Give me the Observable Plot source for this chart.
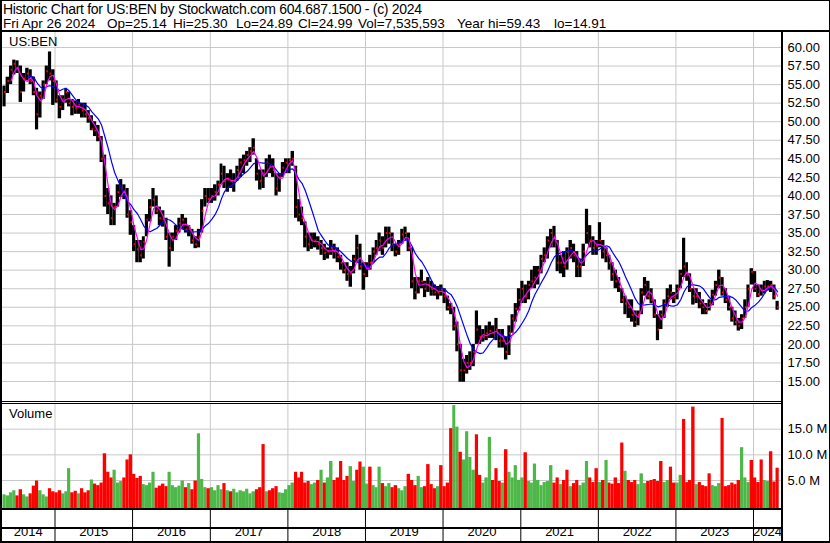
<!DOCTYPE html>
<html><head><meta charset="utf-8">
<script src="https://cdn.jsdelivr.net/npm/d3@7"></script>
<script src="https://cdn.jsdelivr.net/npm/@observablehq/plot@0.6"></script>
<style>
html,body{margin:0;padding:0;background:#fff;}
#chart{position:relative;width:830px;height:543px;overflow:hidden;background:#fff;font-family:Arial,"Liberation Sans",sans-serif;color:#000;}
#chart svg{position:absolute;left:0;}
.ln{position:absolute;background:#000;}
.txt{position:absolute;white-space:pre;line-height:1;}
.h1{font-size:14px;letter-spacing:-0.3px;}
.hd{font-size:13.5px;}
.lb{font-size:13px;}
</style></head><body>
<div id="chart"></div>
<script>
// ---------- DATA (half-month samples, 2014-05 first half .. 2024-04 second half) ----------
const firstSample = [2014, 4]; // May 2014
const hi = [
  // 2014 May-Dec
  54.8,56, 57.5,58.3, 58.2,57.5, 56.5,57.2, 57,56, 54.5,54, 55.5,57.5, 59.4,57,
  // 2015
  55.5,53.5, 53.5,54.5, 54,53, 52.8,53, 52.5,52.5, 51.5,50.8, 50,49.5, 48,45.5, 41,40, 39,41.5, 42.2,41.5, 41,38,
  // 2016
  36,34, 34,34.5, 37.5,39.5, 41,40, 38.5,38, 37,35, 35,36, 37,37.5, 37,36, 35.5,34.5, 35.5,39.5, 41,41,
  // 2017
  41,41.5, 42,44.3, 44,43, 43.5,43, 44,45, 45.5,46, 46.5,47.7, 45,43.5, 43.5,45, 45.5,45, 43,43, 44.5,45,
  // 2018
  45,46, 44,39.5, 38.5,36.5, 35,35, 35,34.5, 34,33.5, 33,34, 33.5,33, 32,31, 31,30.5, 32,34.7, 33.5,31,
  // 2019
  31,32, 33,34, 35,34.5, 35.8,35.8, 35,33.5, 34,35.5, 35.8,35, 33,29, 29,30, 28.5,29, 28.5,28, 27.8,28,
  // 2020
  27.5,26.5, 25.5,25, 23,20, 18,18.5, 19,20, 24.5,22.5, 22,22.5, 23,22.5, 23.5,22, 22,21, 22.5,24, 25.5,27.5,
  // 2021
  28.5,28, 28.5,30, 30.5,30.5, 32,33, 34.5,35.5, 35.9,34, 32,32.5, 33,34, 33.5,32.5, 31.5,33.5, 38.2,36, 34.5,34,
  // 2022
  36.4,34, 33,32, 31,30, 29,27.5, 26.5,26, 26,24.5, 24.5,27.5, 29,28.5, 27.5,26, 24,24.5, 26,27.5, 28,27,
  // 2023
  28,30, 34.3,31, 29.5,27.5, 27.5,27, 26,25.5, 26,27.3, 28.5,30, 29,27.5, 26.5,25, 24.5,23.5, 24,26, 28,30.2,
  // 2024 Jan-Apr
  29.8,28, 28,28.5, 28.6,28.5, 28,25.8
];
const lo = [
  52,53.8, 55,56.3, 56.5,52.6, 54,55.5, 55,53.5, 48.9,50.5, 53,55, 55.5,52.2,
  52.5,50.4, 51.5,52.5, 52,50.8, 51,51, 50.5,50.5, 49.8,48.8, 48,47.3, 44.5,38.5, 37.5,36, 36,38.5, 39.8,39.5, 37,34.7,
  32.5,31, 31,31.5, 34.5,36.5, 38.5,37.5, 36,35.8, 34,30.4, 32.5,34, 35,35.5, 35,34.5, 33.5,32.9, 33,35, 38.5,39,
  39,39.3, 40,41.5, 41,40.5, 41,40.5, 42,42.5, 43,44, 44.5,45.5, 42,40.8, 41,42.5, 43,42.5, 40,40.5, 42.5,43,
  43,44, 37,36.5, 36,33, 32.5,32.8, 33,32.7, 32,31.3, 31.5,32, 31.5,31, 30,29.5, 28.5,27.7, 29.5,31, 30,27.3,
  29,30, 31,32, 32.5,32, 33,33.5, 32.5,31.8, 32,33.5, 34,32.5, 27.5,26, 26.8,27.5, 26.3,27, 26.5,26.5, 26,26.5,
  25.5,24.5, 24,21.8, 19,14.9, 14.9,16, 16.5,17, 20,20, 20.3,20.5, 20.8,20.8, 20.5,19.5, 19.5,17.9, 18.5,21.5, 23,24.5,
  25.5,25.5, 26,27.5, 27.5,28, 29.5,31, 31.5,33, 33,29.8, 29.5,29, 30,31.5, 31,29, 29,30.5, 33.5,33, 32,32,
  33,31.5, 31,30, 28.5,27.5, 27,25.5, 24,23.5, 23,22.3, 22.5,24, 26.5,26, 25.5,23.5, 20.5,22, 23.5,25, 26,25.5,
  26,27.5, 29,28.5, 27,25.3, 25.5,24.8, 24,24, 24.5,25.2, 26.5,27.5, 26.5,25.5, 24.5,23, 22.5,21.8, 22,23.5, 25,28,
  27,26.3, 26.5,26.8, 27.2,27, 26,24.6
];
const cl = [
  54,55.5, 57,57.8, 57.2,54, 55.8,56.5, 55.5,54, 51,53.5, 55,56.8, 56.5,55.5,
  53,52, 53,54, 52.5,52, 51.8,52.3, 51.5,51, 50.5,49, 48.8,48, 45,40, 39,37, 38.5,40.5, 41,40.5, 37.5,36.5,
  33.5,32.8, 32,33.8, 36.8,38.5, 39.5,38, 37,36.8, 34.5,33, 34.5,35.3, 36.3,36.8, 35.5,35.5, 34,33.5, 34.5,38, 40,39.6,
  40,40.5, 41.5,43, 42,42.2, 42,42, 43.5,44.5, 44.8,45.5, 46,46.5, 43,42, 43,44.5, 44,43.5, 41,42.5, 43.8,44.5,
  44.8,45, 38.5,37.5, 37,34.5, 33.5,34, 34,33.5, 33,32.3, 32.5,33, 32.5,31.8, 31,30, 29.5,29.5, 31.5,33, 30.5,29.5,
  30.5,31, 32.5,33, 34,33, 35,35, 33.5,32.5, 33.5,34.8, 35,33, 28.5,27, 28.5,28.5, 27.5,28, 27.5,27, 27,27.4,
  26.5,25, 25,22.5, 20,16.5, 16.5,17.5, 17.5,19, 22,21, 21,21.5, 21.8,21.5, 22,20.5, 20.5,19, 21.5,23.5, 24.8,26,
  27.5,26.5, 28,28.5, 29,30, 31.5,32, 34,35, 34.5,31, 31,30.5, 32.5,33, 32,30.5, 30.5,32.5, 35,34, 33,33.3,
  34,32.5, 32,31, 29.5,28.5, 27.8,26, 25.5,25, 24,23, 24,27, 28,26.5, 26,24, 22,24, 25.5,26.5, 27,26.3,
  27.5,29.5, 30.5,29.3, 27.5,26.5, 26.5,25.5, 25,24.5, 25.5,26.7, 28,29, 27,26, 25,23.5, 23,22.5, 23.5,25, 27.5,29.8,
  27.5,26.8, 27.3,27.8, 27.8,28, 26.5,25
];
// volume, millions of shares (peak of each half-month)
const volume = [
  2.2,2.0, 2.6,3.0, 2.0,3.2, 2.2,1.8, 2.4,3.9, 4.9,3.0, 2.2,1.8, 3.4,2.8,
  2.6,3.0, 2.4,2.8, 7.3,2.6, 2.9,2.4, 3.4,2.6, 3.0,5.1, 4.3,4.0, 4.5,10.2, 6.6,5.5, 7.0,4.5, 4.8,5.5, 9.0,10.0,
  6.2,5.4, 5.8,4.2, 4.0,4.5, 6.6,3.5, 3.9,4.3, 3.8,6.6, 4.0,3.6, 3.9,4.9, 3.6,4.4, 3.2,4.9, 14.1,5.2, 3.6,3.4,
  3.6,3.0, 4.0,3.2, 4.4,3.0, 2.8,3.3, 2.6,3.0, 2.8,3.3, 2.4,2.8, 3.2,3.6, 12.0,2.8, 3.0,3.4, 3.8,2.6, 2.5,3.2,
  4.0,4.5, 6.6,5.5, 6.6,4.5, 4.8,4.2, 4.5,5.0, 7.0,4.5, 5.5,8.7, 5.0,5.5, 8.7,5.0, 5.8,7.7, 4.8,7.0, 8.6,7.6,
  4.3,7.6, 4.0,3.6, 7.6,4.4, 3.8,4.4, 3.6,4.0, 3.4,3.0, 3.8,6.2, 5.0,4.0, 5.8,3.6, 3.8,8.1, 4.2,3.4, 3.8,7.9,
  3.8,4.5, 15.1,19.6, 15.4,10.5, 9.0,14.5, 9.5,7.0, 13.9,6.0, 4.5,5.5, 13.4,5.0, 7.3,4.8, 4.5,11.0, 6.6,5.5, 7.9,5.0,
  5.5,10.4, 4.8,4.5, 8.2,5.0, 4.0,4.6, 4.8,7.9, 4.5,5.5, 4.2,5.0, 7.0,3.8, 4.4,5.0, 4.0,4.5, 8.7,5.5, 4.6,7.3,
  4.6,5.0, 8.9,4.5, 4.3,5.5, 4.4,12.3, 6.8,5.0, 4.6,5.0, 4.2,6.3, 4.4,4.8, 5.0,5.2, 4.8,8.7, 4.6,5.0, 7.6,4.5,
  4.5,6.0, 16.9,4.6, 5.0,19.3, 4.2,4.6, 4.0,3.8, 6.3,4.0, 3.8,4.4, 17.1,3.8, 4.0,4.5, 4.2,5.0, 11.4,5.5, 4.6,8.9,
  5.5,4.6, 9.0,5.0, 4.8,10.6, 4.7,7.4
];
// 1 = up (green) volume bar, 0 = down (red)
const volUp = [
  1,1,1,1,0,0,1,1,0,0,0,1,1,1,0,0,
  0,0,1,1,1,0,0,1,0,0,0,1,0,0,0,0,0,0,1,1,1,0,0,0,
  0,0,0,1,1,1,1,0,0,0,0,1,1,1,1,1,0,1,0,0,1,1,1,0,
  1,1,1,1,0,1,0,1,1,1,1,1,1,1,0,0,0,1,0,0,0,1,1,1,
  1,1,0,0,0,0,0,1,1,0,1,0,1,1,0,0,0,0,0,1,1,0,0,1,
  1,0,1,1,1,0,1,1,0,0,1,1,1,0,0,0,1,1,0,0,0,0,1,0,
  0,0,0,1,1,0,1,1,1,1,0,0,1,1,1,0,0,0,1,0,1,1,1,1,
  1,0,1,1,1,1,1,1,1,1,0,0,1,0,0,1,0,0,1,1,1,0,0,0,
  1,0,1,0,0,0,0,0,1,0,0,0,1,1,1,0,0,0,0,0,1,1,0,0,
  1,1,0,0,0,0,1,0,0,0,0,1,1,1,0,0,0,0,0,0,1,1,1,0,
  0,0,0,1,1,0,0,0
];
const priceTicks = [15,17.5,20,22.5,25,27.5,30,32.5,35,37.5,40,42.5,45,47.5,50,52.5,55,57.5,60];
const volTicks = [5,10,15];
const years = ["2014","2015","2016","2017","2018","2019","2020","2021","2022","2023","2024"];
const headerLine1 = "Historic Chart for US:BEN by Stockwatch.com 604.687.1500 - (c) 2024";
const headerFields = ["Fri Apr 26 2024","Op=25.14","Hi=25.30","Lo=24.89","Cl=24.99","Vol=7,535,593","Year hi=59.43","lo=14.91"];
const symbol = "US:BEN";
const volumeTitle = "Volume";

// ---------- BUILD ----------
const samples = hi.map((h, i) => {
  const m = firstSample[1] + Math.floor(i / 2), half = i % 2;
  const start = new Date(Date.UTC(firstSample[0], m, half ? 16 : 1));
  const end = half ? new Date(Date.UTC(firstSample[0], m + 1, 1)) : new Date(Date.UTC(firstSample[0], m, 16));
  return {start, end, mid: new Date((+start + +end) / 2), hi: h, lo: lo[i], cl: cl[i], vol: volume[i], up: volUp[i]};
});
const xDomain = [new Date(Date.UTC(2014, 3, 24, 5)), new Date(Date.UTC(2024, 4, 11, 19))];
const yearStarts = years.slice(1).map(y => new Date(Date.UTC(+y, 0, 1)));
const yearLabels = years.map(y => {
  const a = Math.max(Date.UTC(+y, 0, 1), +xDomain[0]);
  const b = Math.min(Date.UTC(+y + 1, 0, 1), +xDomain[1]);
  return {label: y, mid: new Date((a + b) / 2)};
});
const FONT = "Arial, 'Liberation Sans', sans-serif";
const GRID = "#c8c8c8", GREEN = "#4db848", RED = "#ff0000";
const common = {width: 830, marginLeft: 1, marginRight: 49, marginTop: 0, marginBottom: 0,
  style: {fontFamily: FONT, fontSize: "13px", background: "transparent", color: "#000", overflow: "visible"}};

const pricePlot = Plot.plot({
  ...common, height: 369,
  x: {type: "utc", domain: xDomain, axis: null},
  y: {domain: [12.305, 62.021], axis: "right", ticks: priceTicks, tickFormat: d => d.toFixed(2), tickSize: 0, tickPadding: 6, label: null},
  marks: [
    Plot.ruleY(priceTicks, {stroke: GRID}),
    Plot.ruleX(yearStarts, {stroke: GRID}),
    Plot.rect(samples, {x1: "start", x2: "end", y1: "lo", y2: "hi", fill: "#000"}),
    Plot.ruleY(samples, {y: "cl", x1: "mid", x2: "end", stroke: RED, strokeWidth: 2}),
    Plot.line(samples, Plot.windowY({k: 8, anchor: "end", strict: true}, {x: "mid", y: "cl", stroke: "#0000ff", strokeWidth: 1.2})),
    Plot.line(samples, Plot.windowY({k: 3, anchor: "end", strict: true}, {x: "mid", y: "cl", stroke: "#ff00ff", strokeWidth: 1.2}))
  ]
});
const vMin = -0.458;
const volPlot = Plot.plot({
  ...common, height: 104,
  x: {type: "utc", domain: xDomain, axis: null},
  y: {domain: [vMin, 19.81], axis: "right", ticks: volTicks, tickFormat: d => d.toFixed(1) + " M", tickSize: 0, tickPadding: 6, label: null},
  marks: [
    Plot.ruleY(volTicks, {stroke: GRID}),
    Plot.ruleX(yearStarts, {stroke: GRID}),
    Plot.rect(samples.filter(d => d.up), {x1: "start", x2: "end", y1: vMin, y2: "vol", fill: GREEN}),
    Plot.rect(samples.filter(d => !d.up), {x1: "start", x2: "end", y1: vMin, y2: "vol", fill: RED})
  ]
});
const axisPlot = Plot.plot({
  ...common, height: 31,
  x: {type: "utc", domain: xDomain, axis: null},
  y: {domain: [0, 1], axis: null},
  marks: [
    Plot.ruleX(yearStarts, {stroke: "#000"}),
    Plot.text(yearLabels, {x: "mid", text: "label", frameAnchor: "bottom", dy: -6, fill: "#000", fontSize: 13})
  ]
});

const chart = document.getElementById("chart");
function place(el, top) { el.style.top = top + "px"; chart.appendChild(el); }
place(pricePlot, 32);
place(volPlot, 404);
place(axisPlot, 510);

function line(l, t, w, h) { const d = document.createElement("div"); d.className = "ln";
  Object.assign(d.style, {left: l + "px", top: t + "px", width: w + "px", height: h + "px"}); chart.appendChild(d); }
function text(str, l, t, cls) { const d = document.createElement("div"); d.className = "txt " + cls;
  d.textContent = str; Object.assign(d.style, {left: l + "px", top: t + "px"}); chart.appendChild(d); }

// frame and panel borders
line(0, 0, 830, 1); line(0, 0, 2, 543); line(829, 0, 1, 543); line(0, 541, 830, 2);
line(0, 30, 830, 2);
line(781, 32, 2, 511);
line(0, 401, 782, 1); line(0, 403, 782, 1);
line(0, 508, 782, 2);
line(0, 527, 782, 2);

// texts
text(headerLine1, 3, 2, "h1");
const fieldX = [3, 107, 173, 236, 298, 358, 457, 554];
headerFields.forEach((f, i) => text(f, fieldX[i], 16.5, "hd"));
text(symbol, 9, 35, "lb");
text(volumeTitle, 9, 407, "lb");
</script>
</body></html>
